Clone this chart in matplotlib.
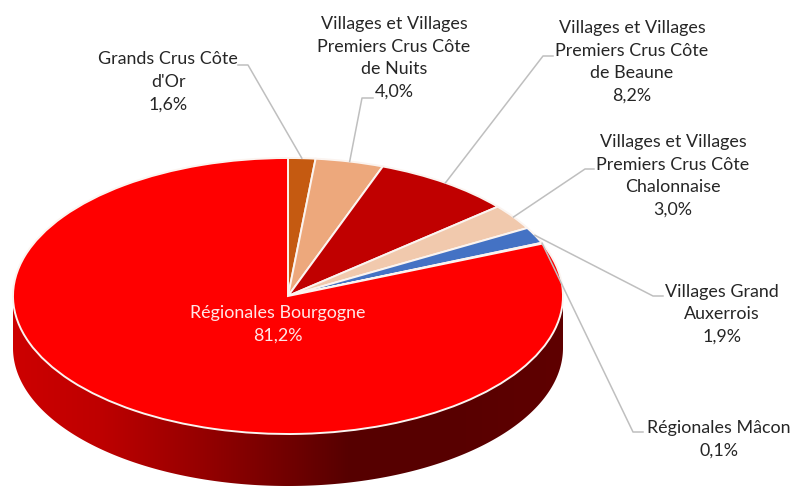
import numpy as np
import matplotlib
matplotlib.use("Agg")
import matplotlib.pyplot as plt
from matplotlib.patches import Polygon

categories = ["Grands Crus Côte\nd'Or", "Villages et Villages\nPremiers Crus Côte\nde Nuits",
              "Villages et Villages\nPremiers Crus Côte\nde Beaune",
              "Villages et Villages\nPremiers Crus Côte\nChalonnaise",
              "Villages Grand\nAuxerrois", "Régionales Mâcon", "Régionales Bourgogne"]
values = [1.6, 4.0, 8.2, 3.0, 1.9, 0.1, 81.2]
value_labels = ["1,6%", "4,0%", "8,2%", "3,0%", "1,9%", "0,1%", "81,2%"]
colors = ["#C55A11", "#EDA87C", "#C00000", "#F1C9AD", "#4472C4", "#7F7F7F", "#FF0000"]

W, H = 794, 487
CX, CY, RX, RY, DEPTH = 288, 296, 275, 138, 52
label_xy = [(168, 82), (394, 58), (632, 62), (673, 176), (722, 314), (719, 439), (278, 324)]
elbows = [[(248, 65), (238, 65)], [(362, 98), (373, 98)], [(543, 56), (553, 56)],
          [(585, 169), (594, 169)], [(653, 296), (663, 296)], [(633, 432), (643, 432)], None]

plt.rcParams["font.family"] = ["Lato", "DejaVu Sans"]
fig = plt.figure(figsize=(W / 100, H / 100), dpi=100, facecolor="white")
ax = fig.add_axes([0, 0, 1, 1])

wedges, _ = ax.pie(values, colors=colors, startangle=90, counterclock=False,
                   wedgeprops=dict(edgecolor="#FBF4F0", linewidth=1.4))
for w in wedges:
    w.set_zorder(3)
ax.axis("off")

# side wall of the disc, with a horizontal gradient
d = DEPTH / RY
t = np.linspace(np.pi, 2 * np.pi, 300)
wall = np.vstack([[-1, 0], np.c_[np.cos(t), np.sin(t) - d], [1, 0]])
patch = Polygon(wall, closed=True, facecolor="none", edgecolor="none", zorder=1)
ax.add_patch(patch)
stops_x = np.array([13, 100, 200, 290, 350, 450, 563])
stops_r = np.array([205, 190, 150, 112, 86, 88, 95]) / 255
xs = np.linspace(13, 563, 400)
img = np.zeros((1, 400, 3))
img[0, :, 0] = np.interp(xs, stops_x, stops_r)
im = ax.imshow(img, extent=(-1, 1, -1 - d, 0), aspect="auto", zorder=2, interpolation="bilinear")
im.set_clip_path(patch)
ax.set_aspect("auto")
ax.set_xlim(-CX / RX, (W - CX) / RX)
ax.set_ylim(-(H - CY) / RY, CY / RY)

# overlay in pixel coordinates for labels and leader lines
ov = fig.add_axes([0, 0, 1, 1], facecolor="none")
ov.set_xlim(0, W)
ov.set_ylim(H, 0)
ov.axis("off")

cum = np.cumsum(values)
total = sum(values)
for i, (cat, val) in enumerate(zip(categories, value_labels)):
    col = "#FFE6E6" if i == 6 else "#262626"
    ov.text(*label_xy[i], f"{cat}\n{val}", ha="center", va="center", fontsize=12.9,
            color=col, linespacing=1.5, zorder=6)
    if elbows[i] is not None:
        mid = (cum[i] - values[i] / 2) / total * 2 * np.pi
        ax_pt = (CX + RX * np.sin(mid), CY - RY * np.cos(mid))
        pts = [ax_pt] + elbows[i]
        ov.plot([p[0] for p in pts], [p[1] for p in pts], color="#BFBFBF", lw=1.1, zorder=5)

fig.savefig("out.png", dpi=100, facecolor="white")
